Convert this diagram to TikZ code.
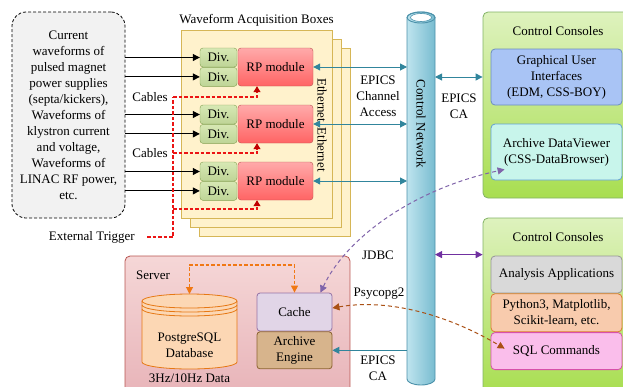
\documentclass[tikz,border=0pt]{standalone}
\usepackage{fontspec}
\setmainfont{Liberation Serif}
\usepackage{xcolor}
\usetikzlibrary{arrows.meta, positioning}

\definecolor{srcfill}{RGB}{242,242,242}
\definecolor{acqfill}{RGB}{255,242,204}
\definecolor{acqline}{RGB}{214,182,86}
\definecolor{divtop}{RGB}{215,232,180}
\definecolor{divbot}{RGB}{190,212,150}
\definecolor{divline}{RGB}{130,160,80}
\definecolor{rptop}{RGB}{255,170,170}
\definecolor{rpbot}{RGB}{255,100,100}
\definecolor{rpline}{RGB}{184,84,80}
\definecolor{trigred}{RGB}{235,20,20}
\definecolor{tipred}{RGB}{192,0,0}
\definecolor{caline}{RGB}{49,133,156}
\definecolor{pipeL}{RGB}{190,228,238}
\definecolor{pipeR}{RGB}{120,188,208}
\definecolor{pipeedge}{RGB}{75,145,170}
\definecolor{cctop}{RGB}{222,242,190}
\definecolor{ccbot}{RGB}{168,222,80}
\definecolor{ccline}{RGB}{130,179,102}
\definecolor{guifill}{RGB}{169,196,245}
\definecolor{guiline}{RGB}{108,142,191}
\definecolor{viewfill}{RGB}{200,245,235}
\definecolor{viewline}{RGB}{100,160,210}
\definecolor{anafill}{RGB}{217,217,217}
\definecolor{analine}{RGB}{150,150,150}
\definecolor{pyfill}{RGB}{248,203,173}
\definecolor{pyline}{RGB}{220,120,50}
\definecolor{sqlfill}{RGB}{250,190,235}
\definecolor{sqlline}{RGB}{215,80,170}
\definecolor{srvtop}{RGB}{245,215,215}
\definecolor{srvbot}{RGB}{232,180,185}
\definecolor{srvline}{RGB}{184,84,80}
\definecolor{cachefill}{RGB}{225,213,231}
\definecolor{cacheline}{RGB}{150,115,166}
\definecolor{engfill}{RGB}{215,180,140}
\definecolor{engline}{RGB}{140,100,50}
\definecolor{dbfill}{RGB}{252,215,180}
\definecolor{dbline}{RGB}{230,120,20}
\definecolor{syncor}{RGB}{240,120,20}
\definecolor{viewpurple}{RGB}{128,100,170}
\definecolor{jdbcpurple}{RGB}{112,48,160}
\definecolor{psybrown}{RGB}{170,80,20}

\begin{document}
\begin{tikzpicture}[x=1pt, y=-1pt, >={Triangle[length=7pt,width=7pt]}, font=\fontsize{13}{16}\selectfont]
    \tikzstyle{src} = [rectangle, draw=black, fill=srcfill, dash pattern=on 3pt off 2pt, line width=0.8pt, rounded corners=14pt, minimum width=113pt, minimum height=206pt, align=center]
    \tikzstyle{acq} = [rectangle, draw=acqline, fill=acqfill, line width=0.8pt, minimum width=151pt, minimum height=188pt]
    \tikzstyle{div} = [rectangle, draw=divline, top color=divtop, bottom color=divbot, rounded corners=3pt, minimum width=37pt, minimum height=19pt, inner sep=0pt]
    \tikzstyle{rp} = [rectangle, draw=rpline, top color=rptop, bottom color=rpbot, rounded corners=3pt, minimum width=75pt, minimum height=38pt, inner sep=0pt]
    \tikzstyle{console} = [rectangle, draw=ccline, top color=cctop, bottom color=ccbot, line width=0.8pt, rounded corners=5pt, minimum width=147pt]
    \tikzstyle{panel} = [rectangle, rounded corners=4pt, line width=0.8pt, minimum width=131pt, align=center, inner sep=0pt]
    \tikzstyle{srvbox} = [rectangle, rounded corners=3pt, line width=0.8pt, minimum width=75pt, align=center, inner sep=0pt]
    \tikzstyle{note} = [align=center, inner sep=0pt]
    \tikzstyle{wire} = [->, line width=1pt, draw=black]
    \tikzstyle{ca} = [line width=1pt, draw=caline]
    \tikzstyle{trigline} = [line width=1.1pt, draw=trigred, dash pattern=on 3.5pt off 2pt]
    \tikzstyle{trigarrow} = [trigline, -{Triangle[length=6pt,width=7pt,color=tipred]}]

    \useasboundingbox (0,0) rectangle (623,386);
    \clip (0,0) rectangle (623,386);

    % signal sources
    \node [src] (src) at (68.5,115) {Current\\waveforms of\\pulsed magnet\\power supplies\\(septa/kickers),\\Waveforms of\\klystron current\\and voltage,\\Waveforms of\\LINAC RF power,\\etc.};

    % stacked acquisition boxes (back to front)
    \node [acq] (acq3) at (274.5,142) {};
    \node [acq] (acq2) at (265.5,133) {};
    \node [acq] (acq1) at (256.5,124) {};
    \node [note] (acqt) at (256.5,20) {Waveform Acquisition Boxes};

    \node [div] (diva1) at (218.5,57.5) {Div.};
    \node [div, below=0pt of diva1] (divb1) {Div.};
    \node [rp] (rp1) at (275.5,67) {RP module};
    \node [div] (diva2) at (218.5,114.5) {Div.};
    \node [div, below=0pt of diva2] (divb2) {Div.};
    \node [rp] (rp2) at (275.5,124) {RP module};
    \node [div] (diva3) at (218.5,171.5) {Div.};
    \node [div, below=0pt of diva3] (divb3) {Div.};
    \node [rp] (rp3) at (275.5,181) {RP module};
    \node [note, rotate=-90] (eth) at (322,125) {Ethernet\, Ethernet};

    \draw [wire] (diva1.west -| src.east) -- (diva1.west);
    \draw [wire] (divb1.west -| src.east) -- (divb1.west);
    \draw [wire] (diva2.west -| src.east) -- (diva2.west);
    \draw [wire] (divb2.west -| src.east) -- (divb2.west);
    \draw [wire] (diva3.west -| src.east) -- (diva3.west);
    \draw [wire] (divb3.west -| src.east) -- (divb3.west);

    % trigger cables
    \node [note, anchor=east] (ext) at (135,237) {External Trigger};
    \node [note, anchor=east] (cab1) at (168,97) {Cables};
    \node [note, anchor=east] (cab2) at (168,153) {Cables};
    \coordinate (bus1) at (173,97);
    \coordinate (bus2) at (173,153);
    \coordinate (bus3) at (173,209);
    \draw [trigline] ([xshift=12pt]ext.east) -| (bus1);
    \draw [trigarrow] (bus1) -| ([xshift=-18.5pt]rp1.south);
    \draw [trigarrow] (bus2) -| ([xshift=-18.5pt]rp2.south);
    \draw [trigarrow] (bus3) -| ([xshift=-18.5pt]rp3.south);

    % control network pipe
    \node [inner sep=0pt, outer sep=0pt, minimum width=28pt, minimum height=361.5pt] (net) at (421,198.25) {};
    \draw [draw=pipeedge, line width=0.9pt, left color=pipeL, right color=pipeR] (net.north west) -- (net.south west) arc[start angle=180, end angle=360, x radius=14pt, y radius=6pt] -- (net.north east) arc[start angle=0, end angle=180, x radius=14pt, y radius=5.5pt] -- cycle;
    \draw [draw=pipeedge, line width=0.9pt] (net.north) ellipse[x radius=14pt, y radius=5.5pt];
    \draw [draw=pipeedge, line width=0.6pt, fill=white] (net.north) ellipse[x radius=10.5pt, y radius=4pt];
    \node [note, rotate=-90] (netlbl) at (421,124) {Control Network};

    \draw [ca, <->] (rp1.east) -- (rp1.east -| net.west);
    \draw [ca, <->] (rp2.east) -- (rp2.east -| net.west);
    \draw [ca, <->] (rp3.east) -- (rp3.east -| net.west);
    \node [note] (chan) at (378,96) {EPICS\\Channel\\Access};

    % upper consoles
    \node [console, minimum height=186pt] (cc1) at (556.5,105) {};
    \node [note] (cc1t) at (558,31) {Control Consoles};
    \node [panel, fill=guifill, draw=guiline, minimum height=56pt] (gui) at (556.5,77) {Graphical User\\Interfaces\\(EDM, CSS-BOY)};
    \node [panel, fill=viewfill, draw=viewline, minimum height=56pt] (viewer) at (556.5,152) {Archive DataViewer\\(CSS-DataBrowser)};
    \draw [ca, <->] (gui.west -| net.east) -- (gui.west -| cc1.west);
    \node [note] (ca1) at (459,106) {EPICS\\CA};

    % lower consoles
    \node [console, minimum height=176pt] (cc2) at (556.5,306) {};
    \node [note] (cc2t) at (558,237) {Control Consoles};
    \node [panel, fill=anafill, draw=analine, minimum height=37pt] (ana) at (556.5,274.5) {Analysis Applications};
    \node [panel, fill=pyfill, draw=pyline, minimum height=38pt, below=0pt of ana] (py) {Python3, Matplotlib,\\Scikit-learn, etc.};
    \node [panel, fill=sqlfill, draw=sqlline, minimum height=37pt, below=0pt of py] (sql) {SQL Commands};
    \coordinate (jd) at ([yshift=-37pt]cc2.north west);
    \draw [line width=1pt, draw=jdbcpurple, <->] (jd -| net.east) -- (jd);
    \node [note] (jdbc) at (378,255) {JDBC};
    \node [note] (psy) at (379,294) {Psycopg2};

    % server
    \node [rectangle, draw=srvline, top color=srvtop, bottom color=srvbot, line width=0.8pt, rounded corners=5pt, minimum width=225pt, minimum height=138pt] (srv) at (237.5,325) {};
    \node [note] (srvt) at (153,275) {Server};
    \node [srvbox, fill=cachefill, draw=cacheline, minimum height=38pt] (cache) at (294.5,312) {Cache};
    \node [srvbox, fill=engfill, draw=engline, minimum height=37pt, below=0pt of cache] (engine) {Archive\\Engine};

    \node [inner sep=0pt, outer sep=0pt, minimum width=95pt, minimum height=61pt] (db) at (189.5,331.5) {};
    \draw [draw=dbline, line width=0.8pt, fill=dbfill] (db.north west) -- (db.south west) arc[start angle=180, end angle=360, x radius=47.5pt, y radius=7pt] -- (db.north east) arc[start angle=0, end angle=180, x radius=47.5pt, y radius=7pt] -- cycle;
    \draw [draw=dbline, line width=0.8pt] (db.north west) arc[start angle=180, end angle=360, x radius=47.5pt, y radius=7pt];
    \draw [draw=dbline, line width=0.8pt] ([yshift=-4pt]db.north west) arc[start angle=180, end angle=360, x radius=47.5pt, y radius=7pt];
    \draw [draw=dbline, line width=0.8pt] ([yshift=-8pt]db.north west) arc[start angle=180, end angle=360, x radius=47.5pt, y radius=7pt];
    \node [note] (dbtxt) at (189.5,345) {PostgreSQL\\Database};
    \node [note] (rate) at (189.5,378) {3Hz/10Hz Data};

    \draw [line width=1.1pt, draw=syncor, dash pattern=on 3.5pt off 2pt, <->] ([yshift=7pt]db.north) -- ++(0,-29) -| (cache.north);

    % archive links
    \draw [ca, ->] (engine.east -| net.west) -- (engine.east);
    \node [note] (ca2) at (378,368) {EPICS\\CA};
    \draw [line width=1pt, draw=viewpurple, dash pattern=on 4pt off 3pt, <->] ([xshift=26pt]cache.north) .. controls (345,240) and (410,190) .. ([shift={(14pt,11pt)}]viewer.south west);
    \draw [line width=1pt, draw=psybrown, dash pattern=on 4pt off 3pt, <->] ([yshift=4pt]cache.east) .. controls (390,298) and (450,316) .. ([shift={(14pt,2.5pt)}]sql.west);
\end{tikzpicture}
\end{document}
